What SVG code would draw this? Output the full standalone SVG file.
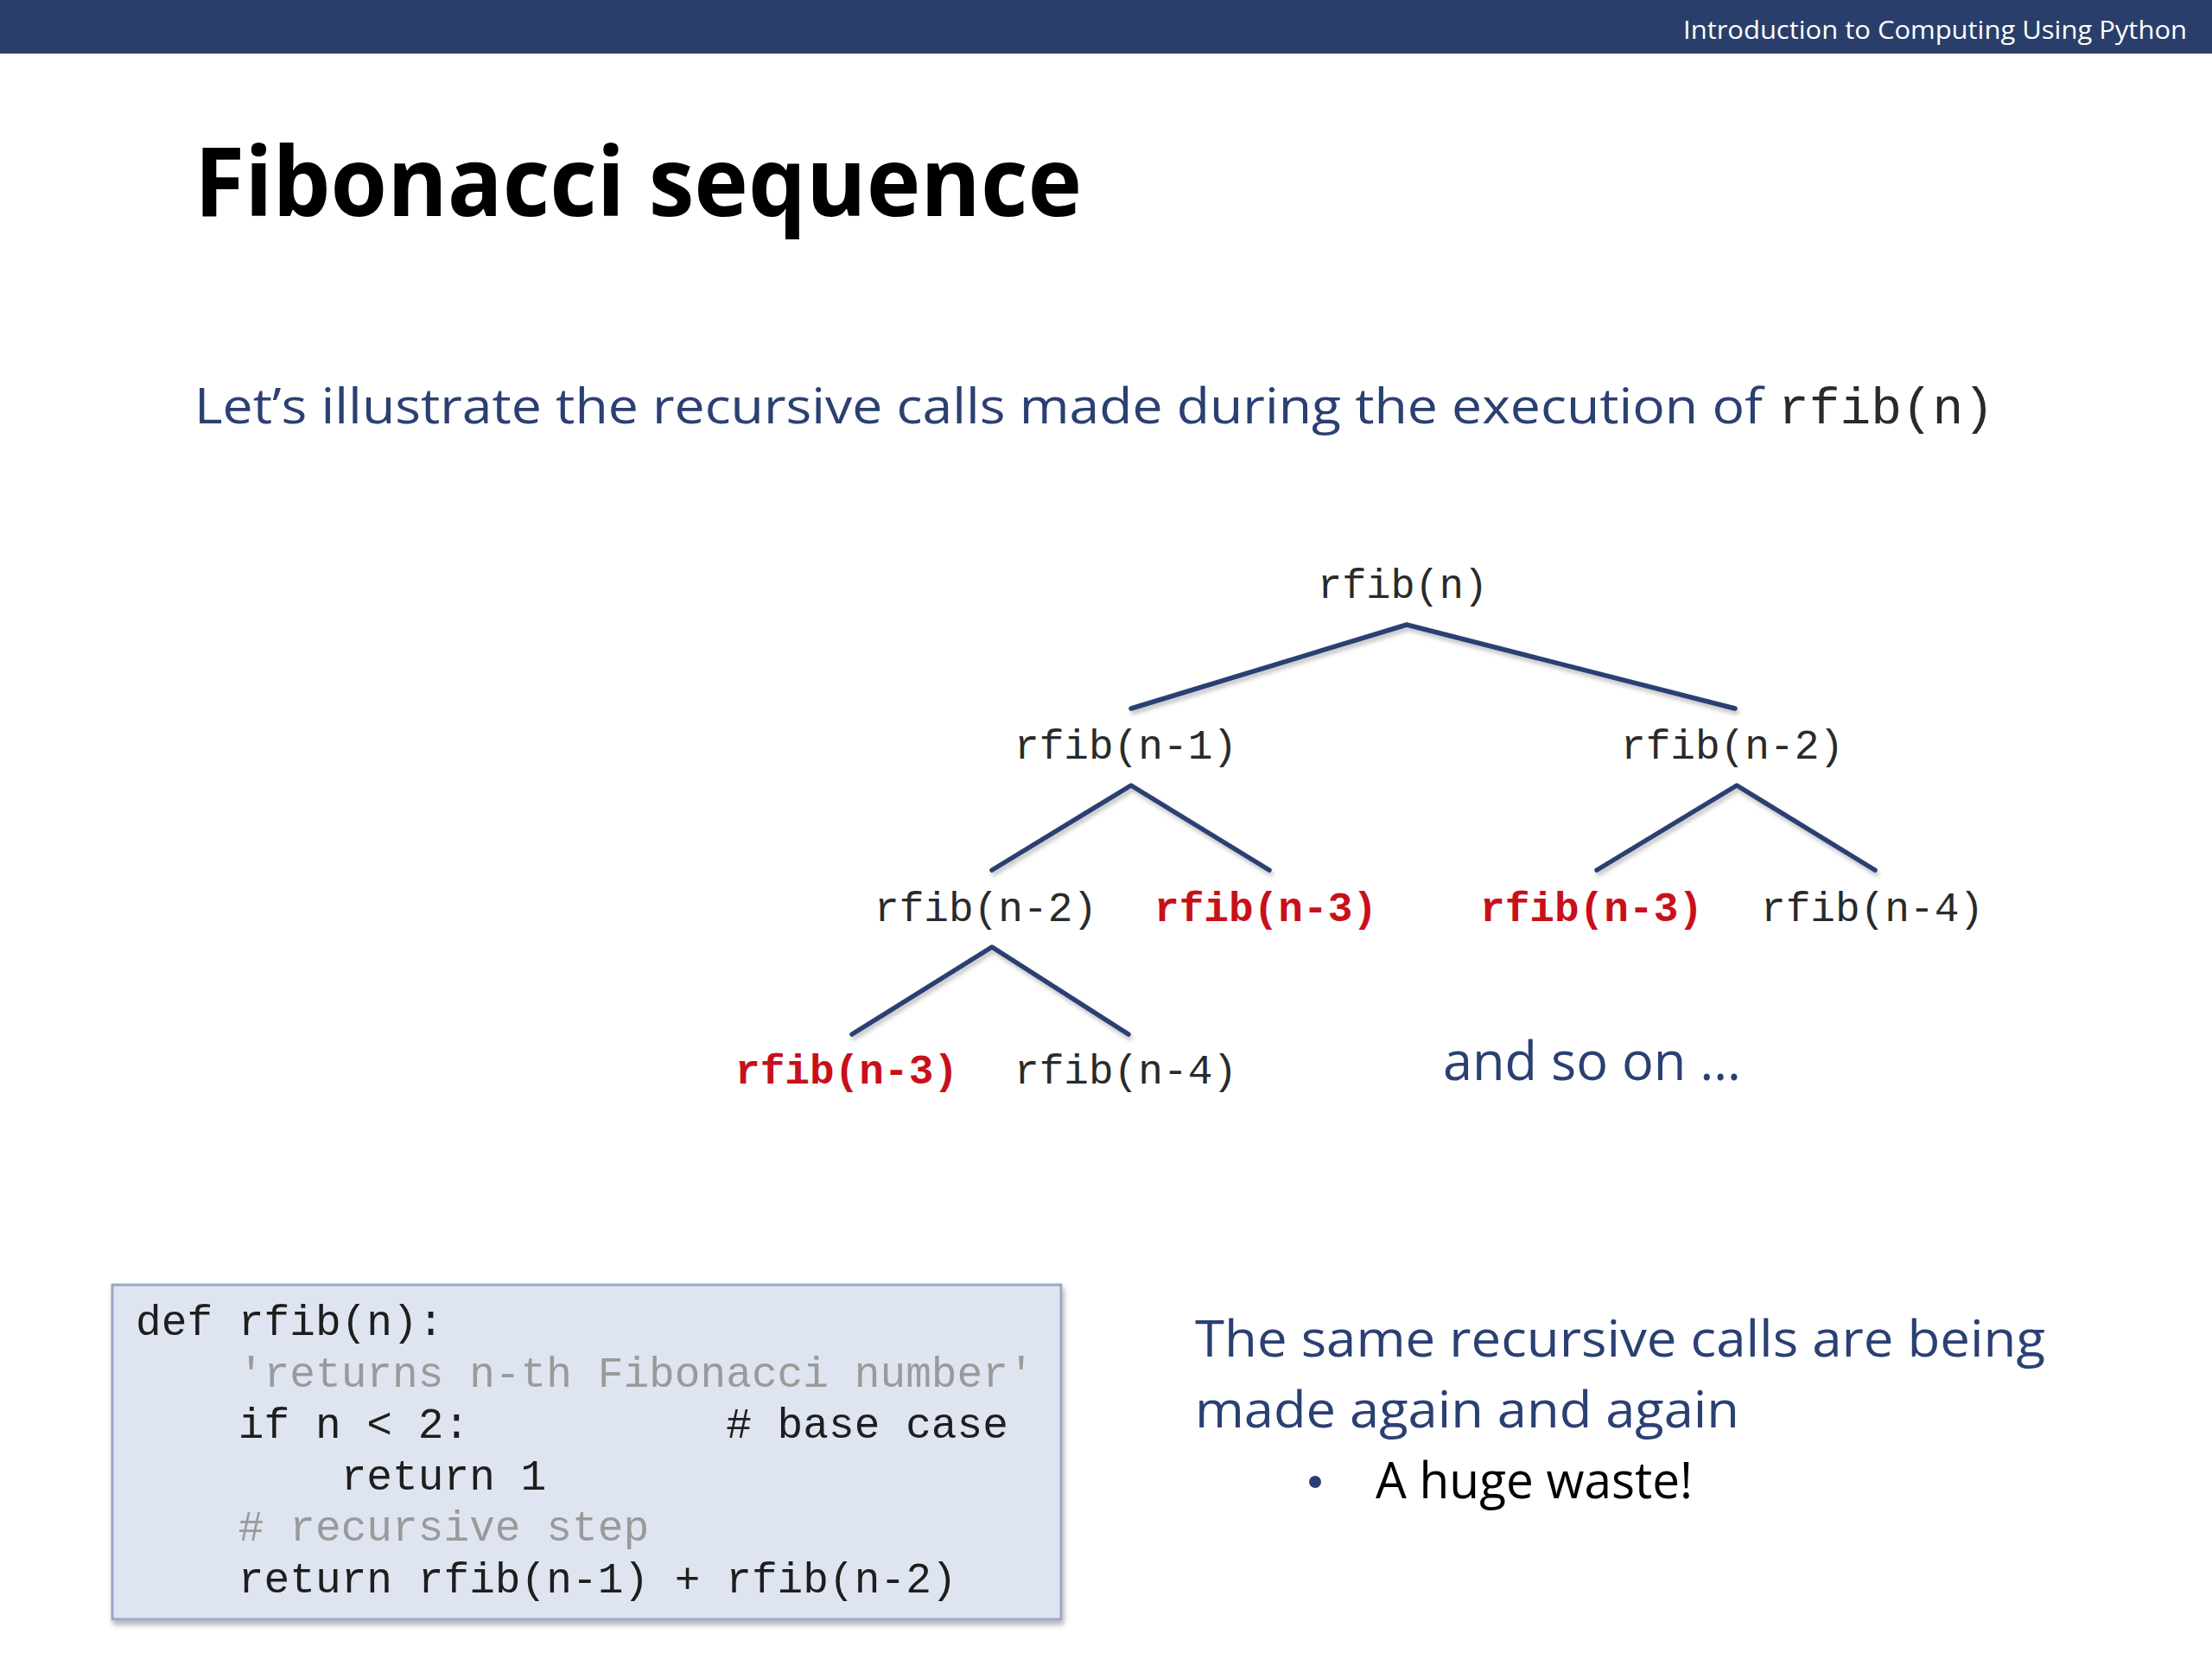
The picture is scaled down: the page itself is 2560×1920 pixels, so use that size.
<svg xmlns="http://www.w3.org/2000/svg" width="2560" height="1920" viewBox="0 0 2560 1920">
<defs>
<filter id="sh" x="-10%" y="-10%" width="130%" height="140%">
<feDropShadow dx="2" dy="4" stdDeviation="2.5" flood-color="#000" flood-opacity="0.25"/>
</filter>
<filter id="boxsh" x="-5%" y="-5%" width="110%" height="115%">
<feDropShadow dx="2" dy="5" stdDeviation="3" flood-color="#000" flood-opacity="0.3"/>
</filter>
</defs>
<style>
.sans{font-family:"Open Sans","Noto Sans","Liberation Sans",sans-serif;}
.mono{font-family:"Liberation Mono","DejaVu Sans Mono",monospace;}
.blue{fill:#2b4072;}
.node{font-size:48px;fill:#2a2a2a;}
.red{fill:#c8101a;font-weight:bold;}
.edge{stroke:#2b4072;stroke-width:5.5;fill:none;stroke-linecap:round;stroke-linejoin:round;}
.code{font-size:49.5px;fill:#1e1e1e;}
.gray{fill:#9a9a9a;}
</style>
<rect x="0" y="0" width="2560" height="1920" fill="#ffffff"/>
<g id="header">
<rect x="0" y="0" width="2560" height="62" fill="#2a3e6b"/>
<text class="sans" x="1948" y="45" font-size="30" fill="#ffffff" textLength="583" lengthAdjust="spacingAndGlyphs">Introduction to Computing Using Python</text>
</g>
<g id="title">
<text class="sans" x="225" y="250" font-size="112" font-weight="bold" fill="#000000" textLength="1027" lengthAdjust="spacingAndGlyphs">Fibonacci sequence</text>
</g>
<g id="subtitle">
<text class="sans blue" x="225" y="490" font-size="56" textLength="1815" lengthAdjust="spacingAndGlyphs">Let’s illustrate the recursive calls made during the execution of</text>
<text class="mono" x="2058" y="490" font-size="59" fill="#2a2a2a" textLength="250" lengthAdjust="spacingAndGlyphs">rfib(n)</text>
</g>
<g id="connectors" filter="url(#sh)">
<polyline class="edge" points="1309,820 1628,723 2008,820"/>
<polyline class="edge" points="1148,1007 1309,909 1469,1007"/>
<polyline class="edge" points="1848,1007 2010,909 2170,1007"/>
<polyline class="edge" points="986,1197 1148,1096 1306,1197"/>
</g>
<g id="n0"><text class="mono node" x="1525" y="692" textLength="197" lengthAdjust="spacingAndGlyphs">rfib(n)</text></g>
<g id="n1"><text class="mono node" x="1174" y="878" textLength="258" lengthAdjust="spacingAndGlyphs">rfib(n-1)</text></g>
<g id="n2"><text class="mono node" x="1876" y="878" textLength="258" lengthAdjust="spacingAndGlyphs">rfib(n-2)</text></g>
<g id="n3"><text class="mono node" x="1012" y="1066" textLength="258" lengthAdjust="spacingAndGlyphs">rfib(n-2)</text></g>
<g id="n4"><text class="mono node red" x="1336" y="1066" textLength="258" lengthAdjust="spacingAndGlyphs">rfib(n-3)</text></g>
<g id="n5"><text class="mono node red" x="1713" y="1066" textLength="258" lengthAdjust="spacingAndGlyphs">rfib(n-3)</text></g>
<g id="n6"><text class="mono node" x="2038" y="1066" textLength="258" lengthAdjust="spacingAndGlyphs">rfib(n-4)</text></g>
<g id="n7"><text class="mono node red" x="851" y="1254" textLength="258" lengthAdjust="spacingAndGlyphs">rfib(n-3)</text></g>
<g id="n8"><text class="mono node" x="1174" y="1254" textLength="258" lengthAdjust="spacingAndGlyphs">rfib(n-4)</text></g>
<g id="andsoon"><text class="sans blue" x="1670" y="1250" font-size="62" textLength="345" lengthAdjust="spacingAndGlyphs">and so on …</text></g>
<g id="codebox">
<rect x="130" y="1487" width="1098" height="387" fill="#dfe5f0" stroke="#9aa7c6" stroke-width="3" filter="url(#boxsh)"/>
<text class="mono code" x="157" y="1545" xml:space="preserve">def rfib(n):</text>
<text class="mono code gray" x="157" y="1605" xml:space="preserve">    'returns n-th Fibonacci number'</text>
<text class="mono code" x="157" y="1664" xml:space="preserve">    if n &lt; 2:          # base case</text>
<text class="mono code" x="157" y="1724" xml:space="preserve">        return 1</text>
<text class="mono code gray" x="157" y="1783" xml:space="preserve">    # recursive step</text>
<text class="mono code" x="157" y="1843" xml:space="preserve">    return rfib(n-1) + rfib(n-2)</text>
</g>
<g id="remark">
<text class="sans blue" x="1383" y="1570" font-size="58" textLength="984" lengthAdjust="spacingAndGlyphs">The same recursive calls are being</text>
<text class="sans blue" x="1383" y="1652" font-size="58" textLength="630" lengthAdjust="spacingAndGlyphs">made again and again</text>
<circle cx="1522" cy="1715" r="7" fill="#2b4072"/>
<text class="sans" x="1592" y="1734" font-size="58" fill="#000000" textLength="367" lengthAdjust="spacingAndGlyphs">A huge waste!</text>
</g>
</svg>
